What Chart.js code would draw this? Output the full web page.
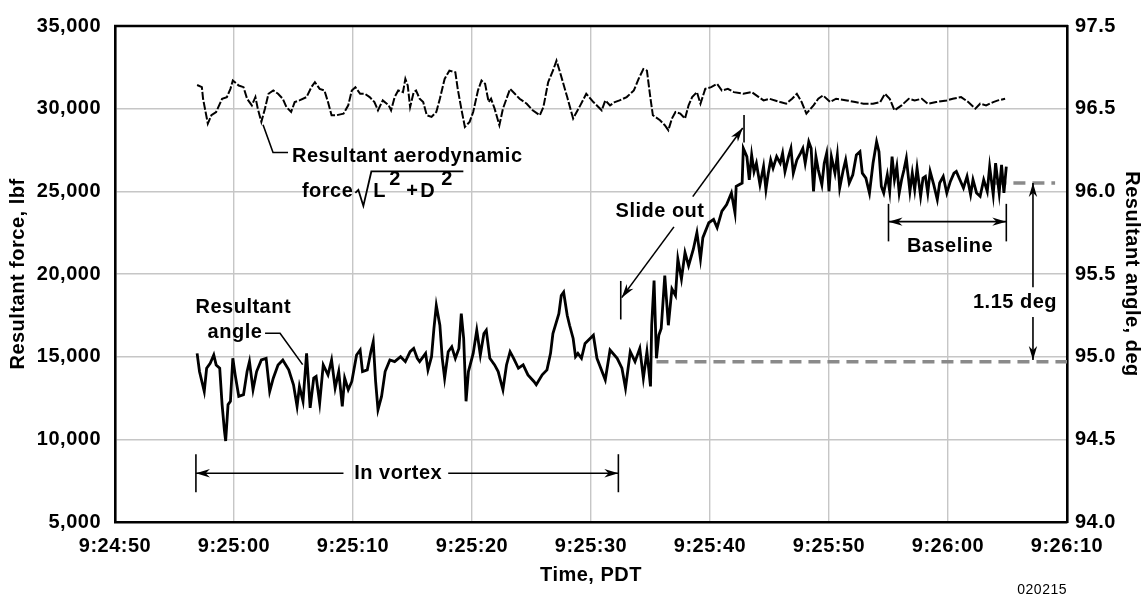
<!DOCTYPE html>
<html><head><meta charset="utf-8">
<script src="https://cdn.jsdelivr.net/npm/chart.js@4.4.1/dist/chart.umd.min.js"></script>
<style>html,body{margin:0;padding:0;background:#fff;}#wrap{width:1148px;height:599px;position:relative;}canvas{display:block;}</style>
</head><body><div id="wrap"><canvas id="c"></canvas></div>
<script>
// ---- data (time in seconds after 9:24:50 PDT) ----
const xTickLabels = ['9:24:50','9:25:00','9:25:10','9:25:20','9:25:30','9:25:40','9:25:50','9:26:00','9:26:10'];
const forceTickLabels = ['5,000','10,000','15,000','20,000','25,000','30,000','35,000'];
const angleTickLabels = ['94.0','94.5','95.0','95.5','96.0','96.5','97.5'];

const forceTimes = [
 6.9,7.3,7.4,7.8,8.1,8.5,9.0,9.4,9.7,9.9,
 10.4,10.8,11.1,11.5,11.8,12.0,12.3,12.6,12.9,13.3,
 13.7,14.1,14.4,14.8,15.1,15.5,16.1,16.5,16.8,17.2,
 17.6,17.9,18.2,18.6,19.2,19.6,19.9,20.2,20.6,21.0,
 21.4,21.8,22.1,22.5,23.0,23.2,23.5,23.8,24.2,24.4,
 24.6,24.8,25.1,25.3,25.6,25.9,26.2,26.6,27.0,27.3,
 27.7,28.1,28.6,28.8,29.1,29.4,29.8,30.1,30.5,30.8,
 31.1,31.4,31.6,31.9,32.3,32.6,33.2,33.6,34.0,34.6,
 35.1,35.7,36.0,36.4,36.8,37.1,37.4,38.0,38.5,39.1,
 39.6,40.2,40.9,41.2,41.6,42.0,42.4,43.0,43.6,44.0,
 44.4,44.7,45.0,45.2,45.8,46.2,46.5,46.8,47.1,47.5,
 47.9,48.2,48.5,48.9,49.2,49.6,50.1,50.6,51.0,51.5,
 52.0,52.8,53.5,54.1,54.5,55.0,55.9,56.4,56.9,57.3,
 57.7,58.1,58.7,59.1,59.5,60.1,60.6,61.5,62.2,62.9,
 63.7,64.3,64.7,65.1,65.5,66.1,66.7,67.2,67.8,68.3,
 69.0,69.9,70.4,71.1,71.7,72.3,72.7,73.2,73.8,74.2,
 74.8];
const forceValues = [
 31430,31300,30600,29100,29600,29800,30600,30700,31200,31700,
 31400,31300,30600,30200,30700,30000,29200,30000,30900,31100,
 30900,30600,30100,29800,30400,30500,30700,31300,31600,31200,
 31100,30400,29600,29600,29700,30200,31100,31300,30900,30900,
 30700,30400,29900,30500,30200,29900,30700,31100,31000,31800,
 31400,30100,31000,31100,30600,30400,29600,29500,29800,30600,
 31800,32300,32200,31200,30000,28900,29200,29800,31100,31700,
 31500,30400,30600,30000,29000,30000,31200,30900,30600,30300,
 29900,29600,30100,31600,32300,32900,32200,30700,29400,30200,
 30900,30400,29900,30500,30200,30400,30500,30700,31100,31800,
 32400,32300,30600,29600,29300,29000,28700,29400,29800,29700,
 29400,30200,30700,31000,30300,31200,31300,31500,31100,31200,
 31000,30900,31000,30700,30500,30600,30400,30300,30600,30900,
 30400,29700,30200,30600,30800,30400,30600,30500,30400,30300,
 30300,30400,30900,30600,29900,30200,30600,30500,30600,30300,
 30400,30500,30600,30700,30400,30000,30300,30200,30400,30500,
 30600];

const angleTimes = [
 6.9,7.1,7.5,7.7,8.0,8.3,8.5,8.8,9.0,9.2,
 9.3,9.5,9.7,9.9,10.1,10.4,10.8,11.1,11.3,11.6,
 11.9,12.3,12.7,13.0,13.3,13.7,14.1,14.6,15.0,15.3,
 15.5,15.8,16.1,16.4,16.7,16.9,17.2,17.5,17.9,18.2,
 18.5,18.8,19.1,19.3,19.6,19.9,20.3,20.6,20.8,21.2,
 21.5,21.7,21.9,22.1,22.4,22.7,23.1,23.5,24.0,24.4,
 24.8,25.1,25.4,25.6,26.1,26.3,26.6,26.8,27.0,27.3,
 27.5,27.7,28.0,28.3,28.6,28.9,29.1,29.3,29.5,29.7,
 30.1,30.4,30.7,31.0,31.2,31.5,31.9,32.2,32.6,32.9,
 33.2,33.5,33.9,34.3,34.7,35.2,35.4,35.9,36.3,36.6,
 36.8,37.3,37.5,37.7,38.0,38.2,38.5,38.7,38.9,39.2,
 39.5,40.2,40.5,41.2,41.6,42.2,42.6,42.9,43.3,43.7,
 44.1,44.4,44.7,45.0,45.1,45.3,45.5,45.7,45.9,46.2,
 46.5,46.8,47.1,47.3,47.6,47.9,48.2,48.6,48.9,49.2,
 49.4,49.9,50.3,50.6,51.0,51.4,51.8,52.1,52.2,52.7,
 52.8,53.1,53.3,53.5,53.7,53.9,54.2,54.5,54.7,54.9,
 55.1,55.3,55.6,55.9,56.1,56.3,56.6,56.8,57.0,57.3,
 57.6,57.8,58.0,58.3,58.5,58.7,58.9,59.1,59.4,59.6,
 59.8,60.0,60.2,60.5,60.7,60.9,61.2,61.4,61.7,62.0,
 62.3,62.6,62.8,63.1,63.4,63.7,64.0,64.2,64.4,64.6,
 64.9,65.1,65.3,65.5,65.7,65.9,66.1,66.3,66.5,66.8,
 67.0,67.2,67.4,67.7,67.9,68.1,68.3,68.5,68.8,69.1,
 69.3,69.6,69.9,70.2,70.5,70.7,71.0,71.3,71.6,71.9,
 72.1,72.4,72.7,73.0,73.3,73.5,73.8,74.0,74.3,74.5,
 74.7,74.9];
const angleValues = [
 95.02,94.91,94.79,94.93,94.96,95.01,94.95,94.93,94.71,94.55,
 94.49,94.71,94.73,94.99,94.89,94.76,94.77,94.91,94.97,94.80,
 94.91,94.98,94.99,94.79,94.87,94.95,94.98,94.92,94.83,94.70,
 94.82,94.73,95.02,94.69,94.87,94.88,94.72,94.95,94.89,94.98,
 94.81,94.91,94.70,94.87,94.80,94.85,95.01,95.04,94.91,94.92,
 95.03,95.09,94.85,94.68,94.76,94.91,94.98,94.97,95.00,94.97,
 95.03,95.05,94.99,94.97,95.02,94.92,95.00,95.17,95.31,95.19,
 94.99,94.87,95.03,95.06,94.99,95.05,95.26,95.11,94.73,94.91,
 95.02,95.16,95.01,95.14,95.16,94.99,94.95,94.91,94.80,94.95,
 95.03,94.99,94.93,94.95,94.89,94.85,94.83,94.89,94.92,95.02,
 95.14,95.26,95.37,95.39,95.25,95.19,95.11,95.00,95.02,94.99,
 95.08,95.13,94.99,94.86,95.04,94.99,94.93,94.81,95.03,94.97,
 95.05,94.87,95.03,94.82,95.19,95.46,94.99,95.13,95.17,95.49,
 95.19,95.41,95.37,95.59,95.47,95.63,95.55,95.65,95.75,95.59,
 95.72,95.81,95.83,95.78,95.88,95.92,95.99,95.87,96.03,96.05,
 96.26,96.21,96.07,96.22,96.12,96.17,96.04,96.15,96.01,96.11,
 96.19,96.14,96.21,96.17,96.23,96.12,96.21,96.26,96.11,96.19,
 96.23,96.26,96.17,96.30,96.26,96.00,96.21,96.13,96.04,96.17,
 96.23,96.00,96.21,96.11,96.22,96.02,96.13,96.19,96.05,96.10,
 96.22,96.24,96.11,96.08,95.99,96.17,96.30,96.24,96.03,95.99,
 96.10,96.00,96.21,96.07,96.15,95.99,96.07,96.13,96.20,96.00,
 96.11,96.01,96.14,95.97,96.08,96.09,95.99,96.12,96.04,95.95,
 96.05,96.09,95.99,96.06,96.11,96.12,96.07,96.02,96.09,95.98,
 96.07,95.99,95.97,96.07,96.00,96.15,95.98,96.17,95.99,96.16,
 95.99,96.15];

// reference levels (deg) and their time spans (s)
const lowerLevelTimes = [45.5, 80];
const lowerLevelValues = [94.97, 94.97];
const upperLevelTimes = [73.9, 79.0];
const upperLevelValues = [96.05, 96.05];

const FONT = "'Liberation Sans', Arial, Helvetica, sans-serif";
const BOLD = 'bold 20px ' + FONT;
const SPACING = '0.5px';

function pts(xs, ys){ return xs.map((t,i)=>({x:t, y:ys[i]})); }

// ---- annotation plugin ----
function seg(ctx, p){ ctx.beginPath(); p.forEach((q,i)=> i?ctx.lineTo(q[0],q[1]):ctx.moveTo(q[0],q[1])); ctx.stroke(); }
function head(ctx, tip, from, len, half){
  len = len||14; half = half||4.2;
  const a = Math.atan2(tip[1]-from[1], tip[0]-from[0]);
  const c = Math.cos(a), s = Math.sin(a);
  const bx = tip[0]-len*c, by = tip[1]-len*s;
  ctx.beginPath();
  ctx.moveTo(tip[0], tip[1]);
  ctx.lineTo(bx - s*half, by + c*half);
  ctx.lineTo(tip[0]-len*0.7*c, tip[1]-len*0.7*s);
  ctx.lineTo(bx + s*half, by - c*half);
  ctx.closePath(); ctx.fill();
}
function txt(ctx, s, x, y, align, font, base){
  ctx.font = font || BOLD; ctx.textAlign = align || 'center'; ctx.textBaseline = base || 'middle';
  ctx.fillText(s, x, y);
}

const annotate = {
  id: 'annotate',
  beforeDraw(chart){ chart.ctx.letterSpacing = SPACING; },
  afterDraw(chart){
    const ctx = chart.ctx, ca = chart.chartArea;
    const sx = chart.scales.x, sy = chart.scales.y, sa = chart.scales.y2;
    const P = (t,f)=>[sx.getPixelForValue(t), sy.getPixelForValue(f)];
    const Q = (t,d)=>[sx.getPixelForValue(t), sa.getPixelForValue(d)];
    ctx.save();
    ctx.letterSpacing = SPACING;
    ctx.fillStyle = '#000'; ctx.strokeStyle = '#000';
    // top frame line
    ctx.lineWidth = 2.6; seg(ctx, [[ca.left-1, ca.top],[ca.right+1, ca.top]]);

    ctx.lineWidth = 1.6;
    // Resultant aerodynamic force label
    seg(ctx, [P(12.44,29024), P(13.28,27351), P(14.54,27351)]);
    let p = P(14.87, 27130); txt(ctx, 'Resultant aerodynamic', p[0], p[1], 'left');
    p = P(15.71, 24661);
    txt(ctx, 'force', p[0], p[1], 'left', BOLD, 'alphabetic');
    const rx = p[0] + ctx.measureText('force').width + 2, b = p[1];
    ctx.lineWidth = 1.8;
    seg(ctx, [[rx, b-4],[rx+3, b-7],[rx+8, b+9],[rx+16, b-25.5],[rx+108, b-25.5]]);
    txt(ctx, 'L', rx+18, b, 'left', BOLD, 'alphabetic');
    txt(ctx, '2', rx+34, b-12, 'left', BOLD, 'alphabetic');
    txt(ctx, '+', rx+51, b, 'left', BOLD, 'alphabetic');
    txt(ctx, 'D', rx+65, b, 'left', BOLD, 'alphabetic');
    txt(ctx, '2', rx+86, b-12, 'left', BOLD, 'alphabetic');

    ctx.lineWidth = 1.6;
    // Resultant angle label
    p = P(10.78, 17968); txt(ctx, 'Resultant', p[0], p[1]);
    p = P(10.08, 16474); txt(ctx, 'angle', p[0], p[1]);
    seg(ctx, [P(12.61,16414), P(13.87,16414), P(15.77,14520)]);

    // Slide out
    p = P(45.8, 23765); txt(ctx, 'Slide out', p[0], p[1]);
    let a0 = P(48.55, 24680), a1 = P(52.75, 28830);
    seg(ctx, [a0, a1]); head(ctx, a1, a0);
    seg(ctx, [P(52.86, 29620), P(52.86, 27950)]);
    a0 = P(46.97, 22850); a1 = P(42.58, 18570);
    seg(ctx, [a0, a1]); head(ctx, a1, a0);
    seg(ctx, [P(42.5, 19580), P(42.5, 17250)]);

    // In vortex
    seg(ctx, [P(6.8, 9100), P(6.8, 6800)]);
    seg(ctx, [P(42.3, 9100), P(42.3, 6800)]);
    seg(ctx, [P(6.8, 7950), P(19.2, 7950)]); head(ctx, P(6.8,7950), P(19.2,7950));
    seg(ctx, [P(28.0, 7950), P(42.3, 7950)]); head(ctx, P(42.3,7950), P(28.0,7950));
    p = P(23.8, 7950); txt(ctx, 'In vortex', p[0], p[1]);

    // Baseline
    seg(ctx, [P(65.0, 24243), P(65.0, 21973)]);
    seg(ctx, [P(74.9, 24243), P(74.9, 21973)]);
    seg(ctx, [P(65.0, 23167), P(74.9, 23167)]);
    head(ctx, P(65.0,23167), P(74.9,23167)); head(ctx, P(74.9,23167), P(65.0,23167));
    p = P(70.17, 21674); txt(ctx, 'Baseline', p[0], p[1]);

    // 1.15 deg
    seg(ctx, [Q(77.14, 96.05), Q(77.14, 95.42)]); head(ctx, Q(77.14,96.05), Q(77.14,95.42));
    seg(ctx, [Q(77.14, 95.24), Q(77.14, 94.98)]); head(ctx, Q(77.14,94.98), Q(77.14,95.24));
    p = Q(75.63, 95.33); txt(ctx, '1.15 deg', p[0], p[1]);

    // axis titles and tag
    txt(ctx, 'Time, PDT', (ca.left+ca.right)/2, 575);
    ctx.save(); ctx.translate(18, (ca.top+ca.bottom)/2); ctx.rotate(-Math.PI/2);
    txt(ctx, 'Resultant force, lbf', 0, 0); ctx.restore();
    ctx.save(); ctx.translate(1132, (ca.top+ca.bottom)/2); ctx.rotate(Math.PI/2);
    txt(ctx, 'Resultant angle, deg', 0, 0); ctx.restore();
    txt(ctx, '020215', ca.right, 590, 'right', '14px ' + FONT);
    ctx.restore();
  }
};

const gridStyle = {color:'#c6c6c6', lineWidth:1.4, drawTicks:false};
const borderStyle = {display:true, color:'#000', width:2.6};
const tickFont = {family: FONT, size: 20, weight: 'bold'};

new Chart(document.getElementById('c'), {
  type: 'line',
  data: { datasets: [
    { label:'Resultant angle', data: pts(angleTimes, angleValues), yAxisID:'y2',
      borderColor:'#000', borderWidth:2.8, pointRadius:0, tension:0, fill:false },
    { label:'Resultant aerodynamic force', data: pts(forceTimes, forceValues), yAxisID:'y',
      borderColor:'#000', borderWidth:2, borderDash:[8,2], pointRadius:0, tension:0, fill:false },
    { label:'95.0 reference', data: pts(lowerLevelTimes, lowerLevelValues), yAxisID:'y2',
      borderColor:'#8a8a8a', borderWidth:3.5, borderDash:[12,7], pointRadius:0, fill:false },
    { label:'Baseline level', data: pts(upperLevelTimes, upperLevelValues), yAxisID:'y2',
      borderColor:'#8a8a8a', borderWidth:3.5, borderDash:[12,7], pointRadius:0, fill:false }
  ]},
  options: {
    responsive:true, maintainAspectRatio:false, animation:false,
    layout:{ padding:{top:20, left:0, right:0, bottom:0} },
    plugins:{ legend:{display:false}, tooltip:{enabled:false} },
    scales:{
      x:{ type:'linear', position:'bottom', min:0, max:80,
        ticks:{ stepSize:10, autoSkip:false, maxRotation:0, padding:12, color:'#000', font:tickFont,
          callback:(v,i)=>xTickLabels[i] },
        grid:gridStyle, border:borderStyle,
        afterFit:(s)=>{ s.height = 77; } },
      y:{ type:'linear', position:'left', min:5000, max:35000,
        ticks:{ stepSize:5000, padding:14, color:'#000', font:tickFont,
          callback:(v,i)=>forceTickLabels[i] },
        grid:gridStyle, border:borderStyle,
        afterFit:(s)=>{ s.width = 115; } },
      y2:{ type:'linear', position:'right', min:94, max:97,
        ticks:{ stepSize:0.5, padding:8, color:'#000', font:tickFont,
          callback:(v,i)=>angleTickLabels[i] },
        grid:{display:false, drawTicks:false}, border:borderStyle,
        afterFit:(s)=>{ s.width = 81; } }
    }
  },
  plugins:[annotate]
});
</script></body></html>
